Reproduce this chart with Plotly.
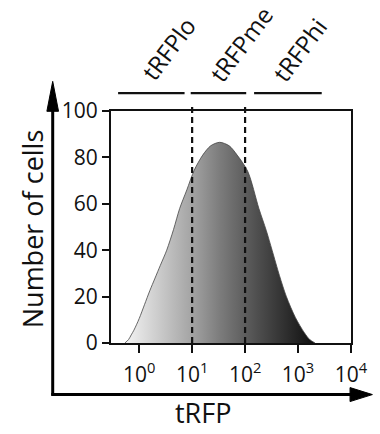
import plotly.graph_objects as go

# ---- data ----
log_tRFP = [-0.27, -0.20, -0.15, -0.10, 0.00, 0.10, 0.20, 0.30, 0.40, 0.52, 0.65, 0.765,
            0.90, 1.04, 1.20, 1.35, 1.52, 1.70, 1.85, 2.05, 2.26, 2.40, 2.51, 2.65,
            2.78, 2.95, 3.12, 3.22, 3.32]
cell_counts = [0, 1.5, 3.5, 5.5, 10.5, 16.5, 22.5, 28, 33.5, 40, 49, 58,
               66, 74.5, 81, 85, 86.5, 85, 81, 74, 58, 48.5, 40, 29,
               20, 11, 4.4, 1.5, 0]

x_tick_vals = [1, 10, 100, 1000, 10000]
x_tick_text = ["10<sup>0</sup>", "10<sup>1</sup>", "10<sup>2</sup>", "10<sup>3</sup>", "10<sup>4</sup>"]
y_tick_vals = [0, 20, 40, 60, 80, 100]

gate_bounds = [10, 100]                        # dashed gates at 10^1 and 10^2
gate_labels = ["tRFPlo", "tRFPme", "tRFPhi"]
gate_bar_start = [0.40, 9.4, 148]
gate_bar_end = [7.2, 105, 2800]
gate_label_center_log = [0.55, 1.93, 3.03]

FONT = "Open Sans"
x_vals = [10 ** v for v in log_tRFP]

fig = go.Figure()
fig.add_trace(go.Scatter(
    x=x_vals, y=cell_counts, mode="lines",
    line=dict(color="#444", width=0.8, shape="spline", smoothing=0.8),
    fill="tozeroy",
    fillgradient=dict(type="horizontal",
                      colorscale=[[0, "#f4f4f4"], [0.35, "#a4a4a4"], [0.5, "#7c7c7c"],
                                  [0.7, "#4e4e4e"], [1, "#0e0e0e"]]),
    showlegend=False, hoverinfo="skip"))

shapes = []
# dashed gate lines
for g in gate_bounds:
    shapes.append(dict(type="line", xref="x", yref="paper", x0=g, x1=g, y0=0, y1=1.033,
                       line=dict(color="#111", width=2.2, dash="6px,4px")))
# gate bars above plot
for s, e in zip(gate_bar_start, gate_bar_end):
    shapes.append(dict(type="line", xref="x", yref="paper", x0=s, x1=e, y0=1.0774, y1=1.0774,
                       line=dict(color="#111", width=2.2)))
# outer arrows
shapes.append(dict(type="line", xref="paper", yref="paper", x0=-0.2429, x1=-0.2429,
                   y0=-0.2266, y1=1.03, line=dict(color="#000", width=3)))
shapes.append(dict(type="path", xref="paper", yref="paper",
                   path="M -0.2429,1.1277 L -0.2672,0.9987 L -0.2186,0.9987 Z",
                   fillcolor="#000", line=dict(color="#000", width=1)))
shapes.append(dict(type="line", xref="paper", yref="paper", x0=-0.2490, x1=1.0,
                   y0=-0.2223, y1=-0.2223, line=dict(color="#000", width=3)))
shapes.append(dict(type="path", xref="paper", yref="paper",
                   path="M 1.0891,-0.2223 L 0.9960,-0.1922 L 0.9960,-0.2524 Z",
                   fillcolor="#000", line=dict(color="#000", width=1)))

annotations = []
label_y = [1.27, 1.29, 1.265]
for lab, cx, cy in zip(gate_labels, gate_label_center_log, label_y):
    annotations.append(dict(text=lab, xref="x", yref="paper", x=cx, y=cy,
                            showarrow=False, textangle=-53, xanchor="center", yanchor="middle",
                            font=dict(family=FONT, size=24, color="#111")))
annotations.append(dict(text="Number of cells", xref="paper", yref="paper", x=-0.3239, y=0.4914,
                        showarrow=False, textangle=-90, xanchor="center", yanchor="middle",
                        font=dict(family=FONT, size=27, color="#111")))
annotations.append(dict(text="tRFP", xref="paper", yref="paper", x=0.3846, y=-0.388,
                        showarrow=False, xanchor="center", yanchor="bottom",
                        font=dict(family=FONT, size=27, color="#111")))

fig.update_layout(
    width=380, height=434,
    margin=dict(l=111, r=22, t=111, b=91),
    paper_bgcolor="white", plot_bgcolor="white",
    shapes=shapes, annotations=annotations,
    xaxis=dict(type="log", range=[-0.532, 4.0], tickvals=x_tick_vals, ticktext=x_tick_text,
               showline=True, mirror=True, linecolor="#111", linewidth=2,
               ticks="outside", ticklen=8, tickwidth=2, tickcolor="#111",
               ticklabelstandoff=4,
               showgrid=False, zeroline=False,
               tickfont=dict(family=FONT, size=21, color="#111")),
    yaxis=dict(range=[0, 100], tickvals=y_tick_vals,
               showline=True, mirror=True, linecolor="#111", linewidth=2,
               ticks="outside", ticklen=7, tickwidth=2, tickcolor="#111",
               showgrid=False, zeroline=False,
               tickfont=dict(family=FONT, size=21, color="#111")),
)

fig.write_html("out.html", config={"displayModeBar": False},
               post_script="document.body.style.margin='0';")
